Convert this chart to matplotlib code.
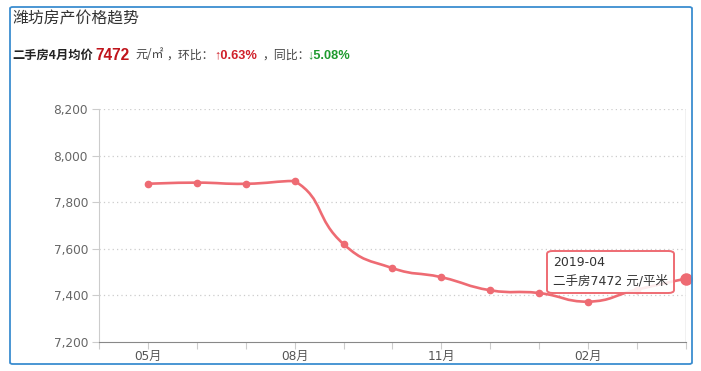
import matplotlib

matplotlib.use("Agg")
import matplotlib.pyplot as plt
import numpy as np
from matplotlib.patches import FancyBboxPatch, PathPatch
from matplotlib.path import Path

# 潍坊二手房月均价 (元/平米), 2018-05 .. 2019-04
MONTHS = ["05月", "06月", "07月", "08月", "09月", "10月",
          "11月", "12月", "01月", "02月", "03月", "04月"]
PRICES = [7879, 7884, 7879, 7891, 7620, 7517, 7478, 7422, 7410, 7373, 7425, 7472]
SHOWN_LABELS = ["05月", "08月", "11月", "02月"]
Y_TICKS = [7200, 7400, 7600, 7800, 8000, 8200]
TOOLTIP_DATE = "2019-04"

W, H = 701, 371
LINE = "#EE6B73"
GRID = "#CCCCCC"
TEXT = "#333333"
CJK = ["Noto Sans CJK SC", "DejaVu Sans"]
LATIN = ["DejaVu Sans", "Noto Sans CJK SC"]
ARIAL = ["Liberation Sans", "DejaVu Sans", "Noto Sans CJK SC"]
plt.rcParams["font.family"] = LATIN


def fx(px):
    return px / W


def fy(py):
    return 1 - py / H


def smooth_path(xs, ys, smooth=0.5, sx=48.9, sy=0.233):
    # echarts-style bezier smoothing, control points clamped to the data box
    pts = np.column_stack([xs, ys]).astype(float)
    scale = np.array([sx, sy])
    lo, hi = pts.min(axis=0), pts.max(axis=0)
    n = len(pts)
    cps = []
    for i in range(n):
        p = pts[i]
        if i == 0 or i == n - 1:
            cps.append((p.copy(), p.copy()))
            continue
        prev, nxt = pts[i - 1], pts[i + 1]
        v = nxt - prev
        d0 = np.hypot(*((p - prev) * scale))
        d1 = np.hypot(*((nxt - p) * scale))
        s = d0 + d1
        d0, d1 = d0 / s, d1 / s
        c0 = np.clip(p - v * smooth * d0, lo, hi)
        c1 = np.clip(p + v * smooth * d1, lo, hi)
        cps.append((c0, c1))
    verts = [pts[0]]
    codes = [Path.MOVETO]
    for i in range(n - 1):
        verts += [cps[i][1], cps[i + 1][0], pts[i + 1]]
        codes += [Path.CURVE4] * 3
    return Path(verts, codes)


fig = plt.figure(figsize=(W / 100, H / 100), dpi=100)
fig.patch.set_facecolor("white")

# card border
fig.patches.append(FancyBboxPatch((fx(10), fy(364)), fx(682), 357 / H,
                                  boxstyle="round,pad=0,rounding_size=0.004",
                                  transform=fig.transFigure, fill=False,
                                  edgecolor="#3B8DD0", lw=1.3))

fig.text(fx(12), fy(19), "潍坊房产价格趋势", fontsize=11.4, color=TEXT, va="center",
         family=CJK)

sub = [
    (12, "二手房4月均价", "#222222", 8.8, "bold", CJK),
    (95, "7472", "#C0141B", 11.2, "bold", ARIAL),
    (135, "元/㎡", "#444444", 8.6, "normal", CJK),
    (166, "，环比：", "#444444", 8.6, "normal", CJK),
    (214, "↑0.63%", "#D0202A", 9.2, "bold", ARIAL),
    (262, "，同比：", "#444444", 8.6, "normal", CJK),
    (307, "↓5.08%", "#1E9A2E", 9.2, "bold", ARIAL),
]
for x, s, c, fs, fw, fam in sub:
    fig.text(fx(x), fy(55), s, color=c, fontsize=fs, fontweight=fw, va="center",
             family=fam)

# plot area: x index -1 .. 11 spans px 99 .. 686, y 7200..8200 spans px 342 .. 109
ax = fig.add_axes([fx(99), fy(342), (686 - 99) / W, (342 - 109) / H])
ax.set_xlim(-1, len(MONTHS) - 1)
ax.set_ylim(Y_TICKS[0], Y_TICKS[-1])
ax.set_facecolor("none")

xs = np.arange(len(MONTHS))
for yv in Y_TICKS[1:]:
    ax.axhline(yv, color=GRID, lw=0.9, ls=(0, (1, 2.5)), zorder=0)

# hover pointer line at the last month
ax.axvline(xs[-1], color="#BBBBBB", lw=1, zorder=1)

ax.add_patch(PathPatch(smooth_path(xs, PRICES), facecolor="none", edgecolor=LINE,
                       lw=1.9, zorder=3, capstyle="round"))
ax.plot(xs[:-1], PRICES[:-1], ls="none", marker="o", ms=4.5, color=LINE, zorder=4)
ax.plot(xs[-1:], PRICES[-1:], ls="none", marker="o", ms=8, color=LINE, zorder=4,
        clip_on=False)

for side in ("top", "right"):
    ax.spines[side].set_visible(False)
ax.spines["left"].set_color("#CCCCCC")
ax.spines["bottom"].set_color("#888888")

ax.set_yticks(Y_TICKS)
ax.set_yticklabels([f"{v:,}" for v in Y_TICKS])
ax.set_xticks(np.arange(-1, len(MONTHS)))
ax.set_xticklabels([""] + [m if m in SHOWN_LABELS else "" for m in MONTHS])
ax.tick_params(axis="y", length=5, width=0.8, color="#CCCCCC", labelsize=8.7,
               labelcolor="#666666", pad=3)
ax.tick_params(axis="x", length=5, width=0.8, color="#CCCCCC", labelsize=8.7,
               labelcolor="#555555", pad=1)

# tooltip
fig.patches.append(FancyBboxPatch((fx(547), fy(293)), (674 - 547) / W, (293 - 251) / H,
                                  boxstyle="round,pad=0,rounding_size=0.008",
                                  transform=fig.transFigure, facecolor=(1, 1, 1, 0.88),
                                  edgecolor=LINE, lw=1.4, zorder=10))
fig.text(fx(553), fy(262), TOOLTIP_DATE, fontsize=9, color=TEXT, va="center", zorder=11)
fig.text(fx(553), fy(281), f"二手房{PRICES[-1]} 元/平米", fontsize=9, color=TEXT,
         va="center", zorder=11)

fig.savefig("out.png", dpi=100, facecolor="white")
